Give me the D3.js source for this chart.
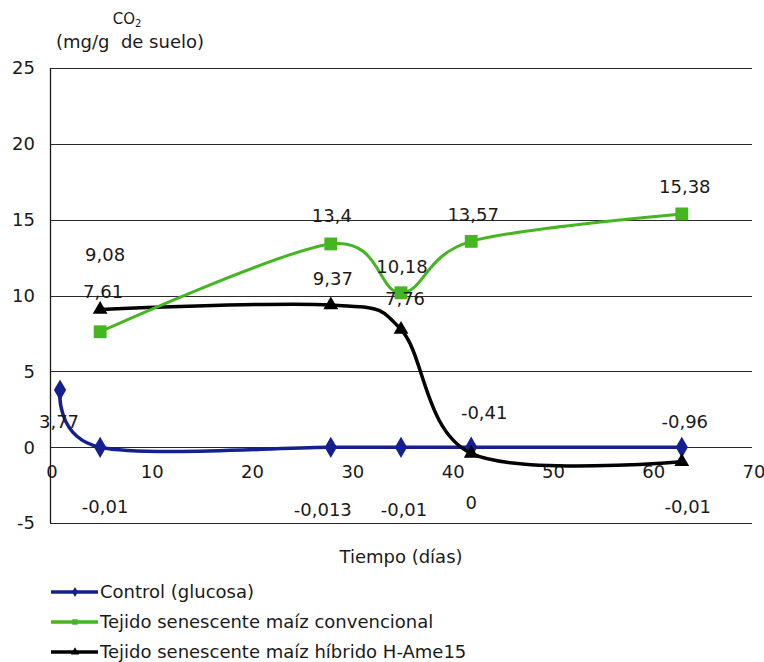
<!DOCTYPE html>
<html>
<head>
<meta charset="utf-8">
<script src="https://cdn.jsdelivr.net/npm/d3@7"></script>
<style>
  body { margin: 0; background: #fff; }
  text { font-family: "DejaVu Sans", Verdana, sans-serif; fill: #1a1a1a; }
</style>
</head>
<body>
<div id="chart"></div>
<script>
// days of measurement
const dias_control = [1, 5, 28, 35, 42, 63];
const dias_tejido = [5, 28, 35, 42, 63];

// CO2 (mg/g de suelo)
const co2_control = [3.77, -0.01, -0.013, -0.01, 0, -0.01];
const co2_convencional = [7.61, 13.4, 10.18, 13.57, 15.38];
const co2_hibrido = [9.08, 9.37, 7.76, -0.41, -0.96];

const series_names = [
  'Control (glucosa)',
  'Tejido senescente maíz convencional',
  'Tejido senescente maíz híbrido H-Ame15'
];

const x_ticks = [0, 10, 20, 30, 40, 50, 60, 70];
const y_ticks = [-5, 0, 5, 10, 15, 20, 25];

// where each data label sits relative to its marker (px)
const label_shift_control = [[-1, 32], [5, 59], [-8, 62], [3, 62], [0, 55], [6, 59]];
const label_shift_convencional = [[3, -40], [1, -28], [1, -26], [2, -27], [3, -27]];
const label_shift_hibrido = [[5, -55], [2, -27], [4, -31], [13, -41], [3, -40]];

const width = 764;
const height = 662;
const font_size = '18px';

const svg = d3.select('#chart')
  .append('svg')
  .attr('width', width)
  .attr('height', height);

const x = d3.scaleLinear().domain([0, 70]).range([50, 752]);
const y = d3.scaleLinear().domain([-5, 25]).range([523, 68]);

// gridlines
svg.append('g')
  .selectAll('line')
  .data(y_ticks)
  .join('line')
  .attr('x1', x(0))
  .attr('x2', x(70))
  .attr('y1', d => Math.round(y(d)) + 0.5)
  .attr('y2', d => Math.round(y(d)) + 0.5)
  .attr('stroke', '#2a2a2a')
  .attr('stroke-width', 1);

// vertical axis
svg.append('line')
  .attr('x1', x(0) + 0.5)
  .attr('x2', x(0) + 0.5)
  .attr('y1', y(25))
  .attr('y2', y(-5))
  .attr('stroke', '#1a1a1a')
  .attr('stroke-width', 1.3);

// tick labels
svg.append('g')
  .selectAll('text')
  .data(y_ticks)
  .join('text')
  .attr('x', 35)
  .attr('y', d => y(d))
  .attr('dy', '0.36em')
  .attr('text-anchor', 'end')
  .style('font-size', font_size)
  .text(d => d);

svg.append('g')
  .selectAll('text')
  .data(x_ticks)
  .join('text')
  .attr('x', d => x(d) + 2)
  .attr('y', 472)
  .attr('dy', '0.36em')
  .attr('text-anchor', 'middle')
  .style('font-size', font_size)
  .text(d => d);

// axis titles
const y_title = svg.append('text')
  .attr('x', 127)
  .attr('y', 19)
  .attr('dy', '0.36em')
  .attr('text-anchor', 'middle')
  .style('font-size', '15px');
y_title.append('tspan').text('CO');
y_title.append('tspan')
  .attr('dy', '0.3em')
  .style('font-size', '10px')
  .text('2');

svg.append('text')
  .attr('x', 130)
  .attr('y', 42)
  .attr('dy', '0.36em')
  .attr('text-anchor', 'middle')
  .attr('xml:space', 'preserve')
  .style('font-size', font_size)
  .style('white-space', 'pre')
  .text('(mg/g  de suelo)');

svg.append('text')
  .attr('x', 401)
  .attr('y', 557)
  .attr('dy', '0.36em')
  .attr('text-anchor', 'middle')
  .style('font-size', font_size)
  .text('Tiempo (días)');

// series
const series = [
  { name: series_names[0], xs: dias_control, ys: co2_control, shift: label_shift_control,
    color: '#14208f', width: 3.5, marker: d3.symbolDiamond, size: 130 },
  { name: series_names[2], xs: dias_tejido, ys: co2_hibrido, shift: label_shift_hibrido,
    color: '#000000', width: 3.5, marker: d3.symbolTriangle, size: 95 },
  { name: series_names[1], xs: dias_tejido, ys: co2_convencional, shift: label_shift_convencional,
    color: '#45b521', width: 3, marker: d3.symbolSquare, size: 165 }
];

const line = d3.line()
  .x(d => x(d[0]))
  .y(d => y(d[1]))
  .curve(d3.curveCardinal.tension(0));

series.forEach(s => {
  const pts = s.xs.map((d, i) => [d, s.ys[i]]);

  svg.append('path')
    .datum(pts)
    .attr('d', line)
    .attr('fill', 'none')
    .attr('stroke', s.color)
    .attr('stroke-width', s.width)
    .attr('stroke-linejoin', 'round');

  svg.append('g')
    .selectAll('path')
    .data(pts)
    .join('path')
    .attr('transform', d => `translate(${x(d[0])}, ${y(d[1])})`)
    .attr('d', d3.symbol().type(s.marker).size(s.size))
    .attr('fill', s.color);
});

// data labels (drawn after all lines)
series.forEach(s => {
  const pts = s.xs.map((d, i) => [d, s.ys[i]]);
  svg.append('g')
    .selectAll('text')
    .data(pts)
    .join('text')
    .attr('x', (d, i) => x(d[0]) + s.shift[i][0])
    .attr('y', (d, i) => y(d[1]) + s.shift[i][1])
    .attr('dy', '0.36em')
    .attr('text-anchor', 'middle')
    .style('font-size', font_size)
    .text(d => String(d[1]).replace('.', ','));
});

// legend
const legend_items = [
  { name: series_names[0], color: '#14208f', marker: d3.symbolDiamond, size: 30 },
  { name: series_names[1], color: '#45b521', marker: d3.symbolSquare, size: 30 },
  { name: series_names[2], color: '#000000', marker: d3.symbolTriangle, size: 30 }
];

legend_items.forEach((item, i) => {
  const cy = 592 + 30 * i;
  svg.append('line')
    .attr('x1', 51)
    .attr('x2', 98)
    .attr('y1', cy)
    .attr('y2', cy)
    .attr('stroke', item.color)
    .attr('stroke-width', 3.5);
  svg.append('path')
    .attr('transform', `translate(75, ${cy})`)
    .attr('d', d3.symbol().type(item.marker).size(item.size))
    .attr('fill', item.color);
  svg.append('text')
    .attr('x', 100)
    .attr('y', cy)
    .attr('dy', '0.36em')
    .style('font-size', font_size)
    .text(item.name);
});
</script>
</body>
</html>
